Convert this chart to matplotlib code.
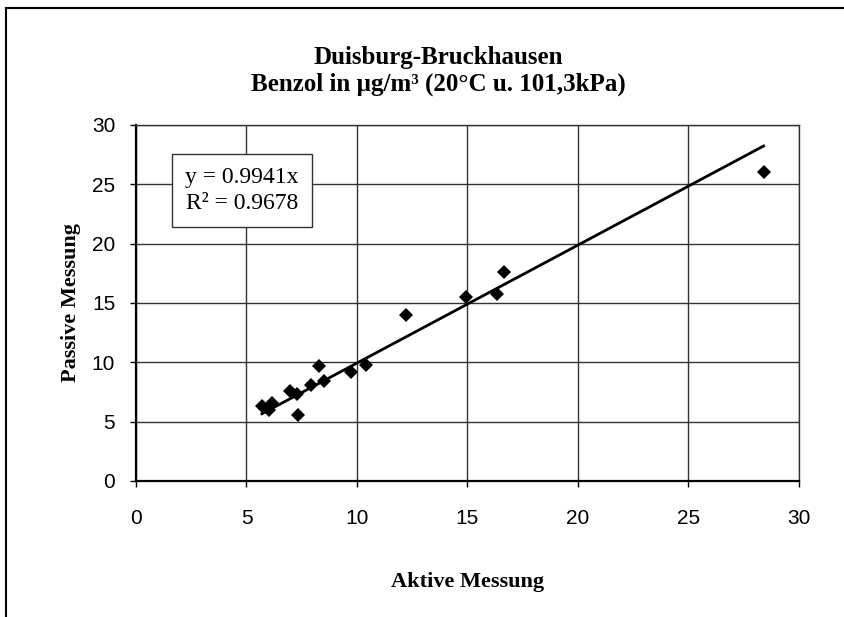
import numpy as np
import matplotlib.pyplot as plt
from matplotlib.lines import Line2D

aktiv = [5.7, 6.0, 6.15, 7.35, 6.95, 7.3, 7.9, 8.3, 8.5, 9.75, 10.4, 12.2, 14.95, 16.35, 16.65, 28.4]
passiv = [6.3, 5.95, 6.55, 5.6, 7.55, 7.35, 8.1, 9.65, 8.45, 9.2, 9.8, 13.95, 15.5, 15.8, 17.6, 26.0]

# Trendlinie durch den Ursprung
steigung = 0.9941
r2 = 0.9678

ticks = [0, 5, 10, 15, 20, 25, 30]

serif = ['Liberation Serif', 'DejaVu Serif']
sans = ['Liberation Sans', 'DejaVu Sans']

fig = plt.figure(figsize=(8.45, 6.17), dpi=100)
ax = fig.add_axes([136 / 845, 1 - 481 / 617, (799 - 136) / 845, (481 - 125) / 617])

# Rahmen um die Grafik (links und oben sichtbar)
fig.add_artist(Line2D([6 / 845, 6 / 845], [0, 1 - 8 / 617], color='black', lw=1.5))
fig.add_artist(Line2D([6 / 845, 1], [1 - 8 / 617, 1 - 8 / 617], color='black', lw=1.5))

xs = np.array([min(aktiv), max(aktiv)])
ax.plot(xs, steigung * xs, color='black', lw=2, zorder=3)
ax.plot(aktiv, passiv, 'D', color='black', markersize=7.5, markeredgewidth=0, zorder=4)

ax.set_xlim(0, 30)
ax.set_ylim(0, 30)
ax.set_xticks(ticks)
ax.set_yticks(ticks)
ax.grid(True, color='#333333', lw=1)
ax.set_axisbelow(True)
ax.tick_params(direction='out', length=4, width=1)
ax.tick_params(axis='x', pad=16)
ax.tick_params(axis='y', pad=11)
for lab in ax.get_xticklabels() + ax.get_yticklabels():
    lab.set_family(sans)
    lab.set_fontsize(15)

for s in ['left', 'bottom']:
    ax.spines[s].set_linewidth(1.6)
for s in ['top', 'right']:
    ax.spines[s].set_linewidth(1.0)
    ax.spines[s].set_color('#333333')

ax.set_xlabel('Aktive Messung', family=serif, fontsize=16, fontweight='bold', labelpad=32)
ax.set_ylabel('Passive Messung', family=serif, fontsize=16, fontweight='bold', labelpad=8)

fig.text(438 / 845, 1 - 71 / 617,
         'Duisburg-Bruckhausen\nBenzol in µg/m³ (20°C u. 101,3kPa)',
         ha='center', va='center', family=serif, fontsize=18, fontweight='bold',
         linespacing=1.2)

# Gleichungsbox
ax.text(4.8, 24.5, f'y = {steigung}x\nR² = {r2}', ha='center', va='center',
        family=serif, fontsize=17, linespacing=1.3, zorder=5,
        bbox=dict(boxstyle='square,pad=0.55', facecolor='white', edgecolor='#333333', lw=1))

fig.savefig('out.png', dpi=100)
